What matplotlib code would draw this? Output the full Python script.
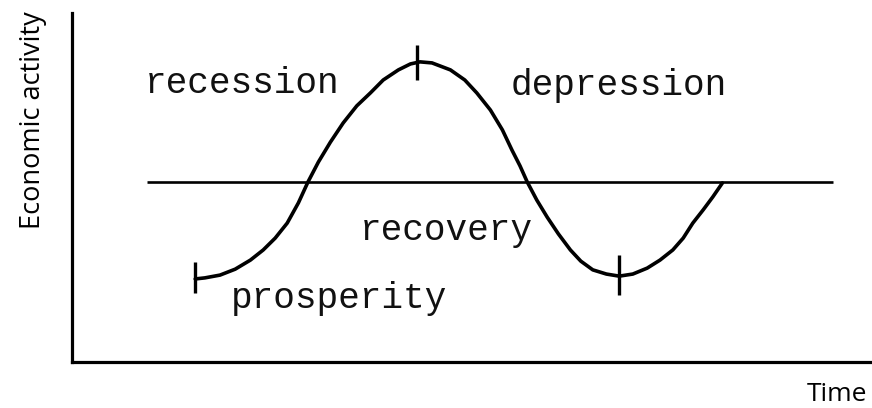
import matplotlib
matplotlib.use("Agg")
import matplotlib.pyplot as plt

# business cycle curve, time / activity in chart units (0-100)
time = [15.4, 16.6, 18.5, 20.4, 22.3, 23.9, 25.4, 26.9, 28.3, 29.5, 30.8, 32.3,
        33.9, 35.6, 37.3, 38.9, 40.8, 42.3, 43.5, 45.0, 47.3, 49.1, 50.6, 52.3,
        53.8, 55.0, 56.0, 56.9, 58.1, 59.4, 60.8, 62.3, 63.6, 65.1, 66.8, 68.4,
        70.1, 71.9, 73.5, 75.1, 76.4, 77.6, 78.9, 80.1, 81.3]
activity = [23.8, 24.1, 24.9, 26.6, 29.2, 32.1, 35.5, 39.8, 45.6, 51.6, 57.3, 63.0,
            68.5, 73.4, 77.1, 80.8, 83.7, 85.4, 86.0, 85.7, 83.7, 80.8, 77.1, 72.2,
            66.5, 60.7, 56.2, 51.6, 46.4, 41.5, 36.7, 32.1, 28.9, 26.4, 25.2, 24.6,
            25.2, 26.9, 29.2, 32.1, 35.5, 39.8, 43.6, 47.3, 51.3]

trend_level = 51.6
trend_span = [9.4, 95.1]

# turning point marks: (x, y_low, y_high)
turn_x = [15.4, 43.1, 68.4]
turn_lo = [19.8, 80.8, 19.2]
turn_hi = [28.7, 90.8, 30.7]

phase_names = ["recession", "depression", "recovery", "prosperity"]
phase_x = [9.1, 54.8, 36.0, 19.8]
phase_y = [77.1, 76.5, 35.0, 15.5]

fig = plt.figure(figsize=(8.72, 4.08), dpi=100)
ax = fig.add_axes([72 / 872, 46 / 408, 800 / 872, 349 / 408])
ax.set_xlim(0, 100)
ax.set_ylim(0, 100)

ax.plot(time, activity, color="black", lw=2.6, solid_capstyle="round")
ax.hlines(trend_level, trend_span[0], trend_span[1], color="black", lw=1.9)
ax.vlines(turn_x, turn_lo, turn_hi, color="black", lw=2.4)

for name, x, y in zip(phase_names, phase_x, phase_y):
    ax.text(x, y, name, family="Liberation Mono", fontsize=26,
            ha="left", va="baseline", color="#111111")

ax.text(-4.9, 69.3, "Economic activity", rotation=90, family="Open Sans",
        fontsize=19.5, ha="center", va="center", clip_on=False)
ax.text(99.4, -11.2, "Time", family="Open Sans", fontsize=19,
        ha="right", va="baseline", clip_on=False)

for side in ["top", "right"]:
    ax.spines[side].set_visible(False)
for side in ["left", "bottom"]:
    ax.spines[side].set_linewidth(2.3)
ax.set_xticks([])
ax.set_yticks([])

fig.savefig("out.png", dpi=100)
